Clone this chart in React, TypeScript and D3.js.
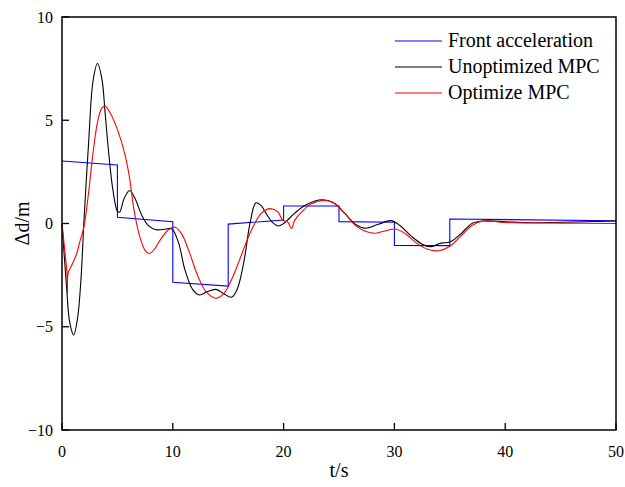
import React from 'react';
import * as d3 from 'd3';

// Front acceleration (piecewise, jumps every 5 s)
const frontT = [0, 5, 5, 10, 10, 15, 15, 20, 20, 25, 25, 30, 30, 35, 35, 50];
const frontV = [3.03, 2.83, 0.3, 0.09, -2.85, -3.03, -0.03, 0.17, 0.85, 0.85, 0.09, 0.06, -1.06, -1.07, 0.22, 0.13];

// Unoptimized MPC
const unoptT = [0, 0.4, 0.7, 1.05, 1.4, 1.7, 2.0, 2.4, 2.8, 3.2, 3.6, 3.9, 4.2, 4.6, 5.0, 5.2, 5.6, 6.1, 6.6, 7.2, 7.8, 8.5, 9.3, 9.9, 10.5, 11.1, 11.8, 12.4, 13.1, 13.9, 14.6, 15.3, 15.8, 16.4, 17.0, 17.5, 18.0, 18.4, 19.0, 19.5, 20.0, 21.0, 22.0, 23.5, 24.5, 25.5, 26.5, 27.4, 28.5, 29.7, 30.5, 31.5, 32.5, 33.3, 34.2, 35.0, 36.0, 37.0, 38.0, 40.0, 42.0, 45.0, 50.0];
const unoptV = [0, -3.0, -4.8, -5.4, -4.6, -2.8, 0.3, 3.9, 6.9, 7.75, 7.0, 5.3, 3.5, 1.6, 0.6, 0.55, 1.2, 1.6, 1.2, 0.4, -0.1, -0.3, -0.28, -0.25, -0.9, -2.25, -3.2, -3.46, -3.3, -3.19, -3.4, -3.57, -3.2, -1.9, 0.1, 1.0, 0.85, 0.5, 0.05, -0.12, 0.0, 0.5, 0.9, 1.15, 1.0, 0.5, -0.05, -0.23, -0.05, 0.14, -0.1, -0.6, -1.0, -1.12, -0.95, -0.9, -0.5, 0.0, 0.12, 0.08, 0.04, 0.06, 0.12];

// Optimize MPC
const optT = [0, 0.25, 0.45, 0.5, 0.55, 0.9, 1.3, 1.6, 2.0, 2.4, 2.8, 3.2, 3.6, 3.9, 4.4, 5.1, 5.7, 6.1, 6.5, 7.0, 7.5, 7.9, 8.4, 8.8, 9.6, 10.2, 10.8, 11.5, 12.3, 13.0, 13.9, 14.6, 15.4, 16.0, 16.6, 17.3, 18.0, 18.8, 19.5, 19.9, 20.4, 20.7, 21.0, 21.7, 22.5, 23.7, 24.5, 25.5, 26.5, 27.5, 28.3, 29.2, 30.1, 31.0, 32.0, 33.0, 34.0, 35.0, 36.0, 37.0, 38.0, 40.0, 45.0, 50.0];
const optV = [0, -1.3, -2.4, -3.4, -2.4, -2.0, -1.5, -0.9, -0.1, 1.5, 3.4, 4.9, 5.6, 5.68, 5.3, 4.4, 3.3, 2.2, 0.65, -0.6, -1.3, -1.45, -1.2, -0.85, -0.3, -0.18, -0.5, -1.4, -2.6, -3.3, -3.62, -3.4, -2.6, -1.8, -0.95, -0.1, 0.5, 0.72, 0.55, 0.17, 0.05, -0.25, 0.15, 0.6, 0.95, 1.12, 1.0, 0.5, -0.1, -0.4, -0.47, -0.35, -0.27, -0.5, -0.95, -1.25, -1.32, -1.1, -0.6, -0.1, 0.12, 0.05, 0.02, 0.0];

const xTicks = [0, 10, 20, 30, 40, 50];
const yTicks = [-10, -5, 0, 5, 10];

const seriesNames = ['Front acceleration', 'Unoptimized MPC', 'Optimize MPC'];
const seriesColors = ['#0000ff', '#000000', '#ff0000'];

const W = 625;
const H = 487;
const FONT = 'Liberation Serif';

const margin = { top: 17, right: 9, bottom: 57, left: 62 };
const x = d3.scaleLinear().domain([0, 50]).range([margin.left, W - margin.right]);
const y = d3.scaleLinear().domain([-10, 10]).range([H - margin.bottom, margin.top]);

const series = [
  { t: frontT, v: frontV, curve: d3.curveLinear },
  { t: unoptT, v: unoptV, curve: d3.curveCatmullRom },
  { t: optT, v: optV, curve: d3.curveCatmullRom },
];

const fmt = (d: number) => (d < 0 ? '\u2212' + Math.abs(d) : String(d));

const App = () => {
  const paths = series.map(s => {
    const pts = s.t.map((t, j) => [t, s.v[j]] as [number, number]);
    return d3.line<[number, number]>().x(d => x(d[0])).y(d => y(d[1])).curve(s.curve)(pts) || '';
  });
  const x0 = x(0), x1 = x(50), yT = y(10), yB = y(-10);

  return (
    <svg width={W} height={H} style={{ position: 'absolute', left: 0, top: 0, background: '#fff' }}>
      {paths.map((d, i) => (
        <path key={i} d={d} fill="none" stroke={seriesColors[i]} strokeWidth={1.1} />
      ))}
      <rect x={x0} y={yT} width={x1 - x0} height={yB - yT} fill="none" stroke="#000" strokeWidth={1.5} />
      {xTicks.map(t => (
        <g key={'x' + t}>
          <line x1={x(t)} x2={x(t)} y1={yB} y2={yB - 7} stroke="#000" strokeWidth={1.3} />
          <text x={x(t)} y={yB + 27} textAnchor="middle" style={{ fontFamily: FONT, fontSize: 16 }}>{fmt(t)}</text>
        </g>
      ))}
      {yTicks.map(t => (
        <g key={'y' + t}>
          <line x1={x0} x2={x0 + 7} y1={y(t)} y2={y(t)} stroke="#000" strokeWidth={1.3} />
          <text x={x0 - 9} y={y(t) + 5.5} textAnchor="end" style={{ fontFamily: FONT, fontSize: 16 }}>{fmt(t)}</text>
        </g>
      ))}
      <text x={(x0 + x1) / 2} y={477} textAnchor="middle" style={{ fontFamily: FONT, fontSize: 20 }}>t/s</text>
      <text transform={`translate(29,${(yT + yB) / 2}) rotate(-90)`} textAnchor="middle" style={{ fontFamily: FONT, fontSize: 20 }}>{'\u0394d/m'}</text>
      {seriesNames.map((name, i) => {
        const ly = 41 + i * 26;
        return (
          <g key={name}>
            <line x1={395} x2={442} y1={ly} y2={ly} stroke={seriesColors[i]} strokeWidth={1.1} />
            <text x={448} y={ly + 6} style={{ fontFamily: FONT, fontSize: 20 }}>{name}</text>
          </g>
        );
      })}
    </svg>
  );
};

export default App;
